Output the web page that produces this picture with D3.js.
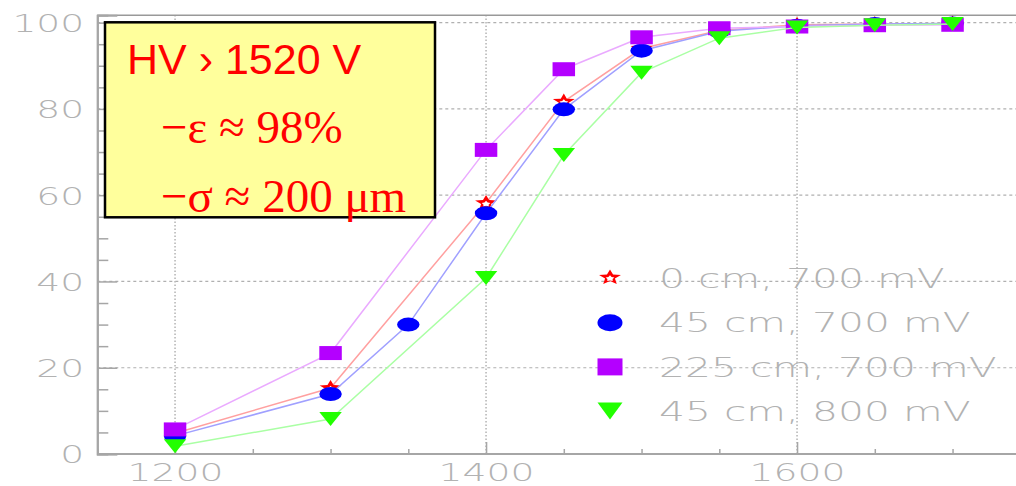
<!DOCTYPE html>
<html><head><meta charset="utf-8">
<script src="https://cdn.jsdelivr.net/npm/d3@7"></script>
<style>
html,body{margin:0;padding:0;background:#fff;overflow:hidden}
svg{display:block}
</style></head>
<body>
<svg id="chart" width="1016" height="486"></svg>
<script>
// ---- data ----
const seriesNames = ["0 cm, 700 mV", "45 cm, 700 mV", "225 cm, 700 mV", "45 cm, 800 mV"];
const hvRed    = [1200, 1300, 1400, 1450, 1500, 1550, 1600, 1650, 1700];
const effRed   = [4.8, 15.3, 58.2, 81.7, 94.0, 98.2, 99.5, 99.7, 99.8];
const hvBlue   = [1200, 1300, 1350, 1400, 1450, 1500, 1550, 1600, 1650, 1700];
const effBlue  = [4.2, 13.9, 30.0, 55.8, 79.9, 93.5, 98.0, 99.3, 99.7, 99.8];
const hvPurple = [1200, 1300, 1400, 1450, 1500, 1550, 1600, 1650, 1700];
const effPurple= [5.7, 23.4, 70.5, 89.2, 96.6, 98.7, 99.1, 99.4, 99.5];
const hvGreen  = [1200, 1300, 1400, 1450, 1500, 1550, 1600, 1650, 1700];
const effGreen = [1.8, 8.1, 40.8, 69.3, 88.4, 96.4, 98.9, 99.4, 99.7];
const xMajorTicks = [1200, 1400, 1600];
const xMinorTicks = [1150, 1250, 1300, 1350, 1450, 1500, 1550, 1650, 1700];
const yMajorTicks = [0, 20, 40, 60, 80, 100];
const yMinorTicks = [5, 10, 15, 25, 30, 35, 45, 50, 55, 65, 70, 75, 85, 90, 95];
const noteLines = ["HV \u203A 1520 V", "\u2212\u03B5 \u2248 98%", "\u2212\u03C3 \u2248 200 \u03BCm"];

// ---- styling ----
const styles = [
  {marker: "star",     fill: "#ff0000", line: "#ffa0a0"},
  {marker: "circle",   fill: "#0000ff", line: "#a0a0ff"},
  {marker: "square",   fill: "#b400ff", line: "#eaaaff"},
  {marker: "triangle", fill: "#22ff00", line: "#aaffa4"}
];
const series = [
  {name: seriesNames[0], x: hvRed, y: effRed},
  {name: seriesNames[1], x: hvBlue, y: effBlue},
  {name: seriesNames[2], x: hvPurple, y: effPurple},
  {name: seriesNames[3], x: hvGreen, y: effGreen}
].map((s, i) => Object.assign(s, styles[i]));

const svg = d3.select("#chart");
const x = d3.scaleLinear().domain([1150, 1750]).range([97.3, 1030.3]);
const y = d3.scaleLinear().domain([0, 101.7]).range([454, 15.3]);
const axisCol = "#a6a6a6";
const labelFont = "'DejaVu Sans', sans-serif";
const labelCol = "#b2b2b2";
const stretch = 1.57;

// grid
const grid = svg.append("g");
grid.selectAll(".hg").data(yMajorTicks.slice(1)).join("line")
  .attr("x1", x(1150)).attr("x2", 1016)
  .attr("y1", d => y(d)).attr("y2", d => y(d))
  .attr("stroke", "#b0b0b0").attr("stroke-width", 1.2).attr("stroke-dasharray", "3,3");
grid.selectAll(".vg").data(xMajorTicks).join("line")
  .attr("x1", d => x(d)).attr("x2", d => x(d))
  .attr("y1", y(0)).attr("y2", y(101.7))
  .attr("stroke", "#b8b8b8").attr("stroke-width", 1.6).attr("stroke-dasharray", "1.5,2");

// frame top
svg.append("line").attr("x1", x(1150)).attr("x2", 1016)
  .attr("y1", y(101.7)).attr("y2", y(101.7)).attr("stroke", "#999").attr("stroke-width", 1.5);

// axes
function styleAxis(g) {
  g.select(".domain").attr("stroke", axisCol).attr("stroke-width", 2);
  g.selectAll(".tick line").attr("stroke", axisCol).attr("stroke-width", 1.5);
}
const yMinor = svg.append("g").attr("transform", `translate(${x(1150)},0)`)
  .call(d3.axisLeft(y).tickValues(yMinorTicks).tickSize(-11).tickFormat(""));
styleAxis(yMinor);
const yMajor = svg.append("g").attr("transform", `translate(${x(1150)},0)`)
  .call(d3.axisLeft(y).tickValues(yMajorTicks).tickSize(-20).tickFormat(d3.format("d")));
styleAxis(yMajor);
yMajor.selectAll(".tick text")
  .attr("x", 0).attr("dy", "0.37em")
  .attr("text-anchor", "end")
  .attr("transform", `translate(-13,0) scale(${stretch},1)`)
  .attr("font-family", labelFont).attr("font-weight", 200)
  .attr("font-size", 24).attr("fill", labelCol);

const xMinor = svg.append("g").attr("transform", `translate(0,${y(0)})`)
  .call(d3.axisBottom(x).tickValues(xMinorTicks).tickSize(-5).tickFormat(""));
styleAxis(xMinor);
xMinor.select(".domain").attr("d", `M${x(1150)},0H1016`);
const xMajor = svg.append("g").attr("transform", `translate(0,${y(0)})`)
  .call(d3.axisBottom(x).tickValues(xMajorTicks).tickSize(-12).tickFormat(d3.format("d")));
styleAxis(xMajor);
xMajor.select(".domain").attr("d", `M${x(1150)},0H1016`);
xMajor.selectAll(".tick text")
  .attr("y", 27).attr("dy", 0)
  .attr("transform", `scale(${stretch},1)`)
  .attr("font-family", labelFont).attr("font-weight", 200)
  .attr("font-size", 24).attr("fill", labelCol);

// marker shapes
function starPath(cx, cy, rx, ry, inner) {
  let p = "";
  for (let k = 0; k < 10; k++) {
    const a = -Math.PI / 2 + k * Math.PI / 5;
    const r = k % 2 === 0 ? 1 : inner;
    p += (k === 0 ? "M" : "L") + (cx + Math.cos(a) * rx * r) + "," + (cy + Math.sin(a) * ry * r);
  }
  return p + "Z";
}
function markerPath(type, cx, cy, w, h) {
  const rx = w / 2, ry = h / 2;
  if (type === "square") return `M${cx-rx},${cy-ry}H${cx+rx}V${cy+ry}H${cx-rx}Z`;
  if (type === "triangle") return `M${cx-rx},${cy-ry}H${cx+rx}L${cx},${cy+ry}Z`;
  if (type === "circle") return `M${cx-rx},${cy}A${rx},${ry} 0 1,0 ${cx+rx},${cy}A${rx},${ry} 0 1,0 ${cx-rx},${cy}Z`;
  return starPath(cx, cy, rx, ry, 0.45);
}
function drawMarker(g, s, cx, cy, w, h) {
  g.append("path").attr("d", markerPath(s.marker, cx, cy, w, h)).attr("fill", s.fill);
  if (s.marker === "star") {
    g.append("path").attr("d", starPath(cx, cy + 1, w * 0.2, h * 0.2, 0.6)).attr("fill", "#fff");
  }
}

// series
const line = d3.line().x(d => x(d[0])).y(d => y(d[1]));
series.forEach(s => {
  const pts = s.x.map((v, i) => [v, s.y[i]]);
  const g = svg.append("g");
  g.append("path").attr("d", line(pts)).attr("fill", "none")
    .attr("stroke", s.line).attr("stroke-width", 1.5);
  pts.forEach(p => {
    if (s.marker === "star") drawMarker(g, s, x(p[0]), y(p[1]), 23, 16);
    else drawMarker(g, s, x(p[0]), y(p[1]), 22.5, 14);
  });
});

// legend
const leg = svg.append("g");
series.forEach((s, i) => {
  const cy = 278.5 + i * 44.2;
  if (s.marker === "star") drawMarker(leg, s, 610, cy - 1, 23, 16);
  else drawMarker(leg, s, 610, cy, 25, 17);
  leg.append("text")
    .attr("transform", `translate(659,${cy + 9.6}) scale(${stretch},1)`)
    .attr("font-family", labelFont).attr("font-weight", 200)
    .attr("font-size", 26).attr("fill", labelCol)
    .text(s.name);
});

// note box
const note = svg.append("g");
note.append("rect").attr("x", 105).attr("y", 22.3).attr("width", 330).attr("height", 195)
  .attr("fill", "#ffff9c").attr("stroke", "#000").attr("stroke-width", 2.5);
note.append("text").attr("x", 127).attr("y", 74)
  .attr("font-family", "'Liberation Sans', Arial, sans-serif").attr("font-size", 43)
  .attr("fill", "#ff0000").text(noteLines[0]);
note.append("text").attr("x", 161).attr("y", 143)
  .attr("font-family", "'Liberation Serif', 'Times New Roman', serif").attr("font-size", 47)
  .attr("fill", "#ff0000").text(noteLines[1]);
note.append("text").attr("x", 161).attr("y", 212)
  .attr("font-family", "'Liberation Serif', 'Times New Roman', serif").attr("font-size", 47)
  .attr("fill", "#ff0000").text(noteLines[2]);
</script>
</body></html>
